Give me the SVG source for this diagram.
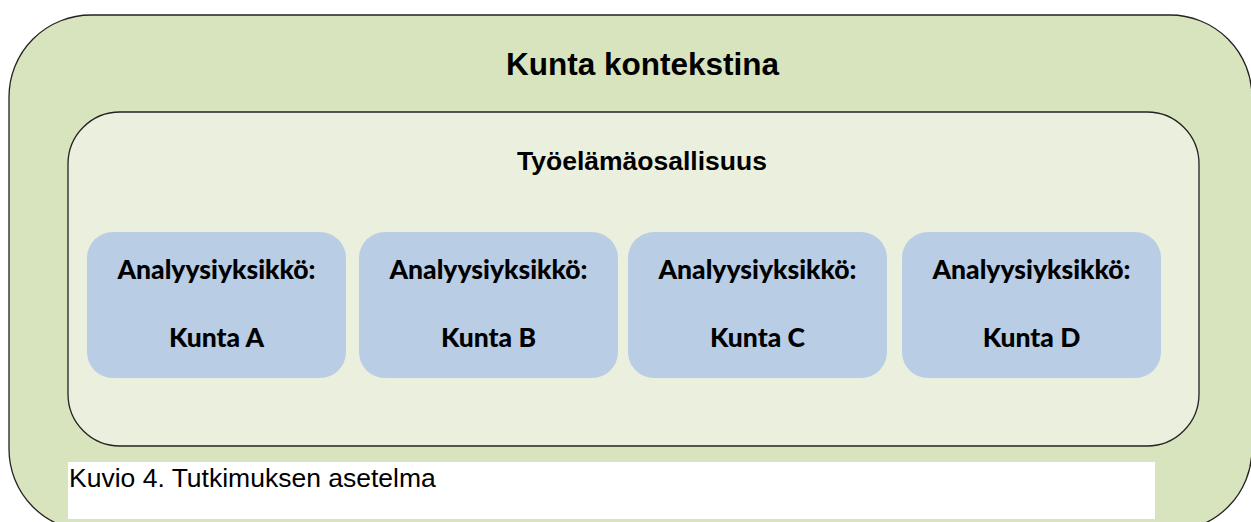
<svg xmlns="http://www.w3.org/2000/svg" width="1251" height="522" viewBox="0 0 1251 522">
  <style>
    .frame { stroke: #222222; stroke-width: 1.3; }
    .outer { fill: #D7E4BD; }
    .inner { fill: #EBF0DE; }
    .unit { fill: #B9CDE5; }
    .title { font-family: "Liberation Sans", Arial, sans-serif; font-weight: bold; fill: #000000; text-anchor: middle; }
    .unittext { font-family: Lato, "Liberation Sans", sans-serif; font-weight: 900; font-size: 26.5px; fill: #000000; text-anchor: middle; }
    .caption { font-family: "Liberation Sans", Arial, sans-serif; font-size: 26.5px; fill: #000000; }
  </style>
  <rect width="1251" height="522" fill="#FFFFFF"/>
  <g id="context">
    <rect class="outer frame" x="9" y="15" width="1243" height="516" rx="82" ry="82"/>
    <text class="title" x="642.5" y="75" font-size="31.5">Kunta kontekstina</text>
  </g>
  <g id="participation">
    <rect class="inner frame" x="68" y="112" width="1131" height="334" rx="52" ry="52"/>
    <text class="title" x="642" y="169.5" font-size="26.5">Työelämäosallisuus</text>
  </g>
  <g id="unitA">
    <rect class="unit" x="87" y="232" width="259" height="146" rx="26" ry="26"/>
    <text class="unittext" x="216.5" y="279">Analyysiyksikkö:</text>
    <text class="unittext" x="216.5" y="347">Kunta A</text>
  </g>
  <g id="unitB">
    <rect class="unit" x="359" y="232" width="259" height="146" rx="26" ry="26"/>
    <text class="unittext" x="488.5" y="279">Analyysiyksikkö:</text>
    <text class="unittext" x="488.5" y="347">Kunta B</text>
  </g>
  <g id="unitC">
    <rect class="unit" x="628" y="232" width="259" height="146" rx="26" ry="26"/>
    <text class="unittext" x="757.5" y="279">Analyysiyksikkö:</text>
    <text class="unittext" x="757.5" y="347">Kunta C</text>
  </g>
  <g id="unitD">
    <rect class="unit" x="902" y="232" width="259" height="146" rx="26" ry="26"/>
    <text class="unittext" x="1031.5" y="279">Analyysiyksikkö:</text>
    <text class="unittext" x="1031.5" y="347">Kunta D</text>
  </g>
  <g id="connectors"></g>
  <g id="caption">
    <rect x="68" y="462" width="1087" height="57" fill="#FFFFFF"/>
    <text class="caption" x="69" y="487">Kuvio 4. Tutkimuksen asetelma</text>
  </g>
</svg>
